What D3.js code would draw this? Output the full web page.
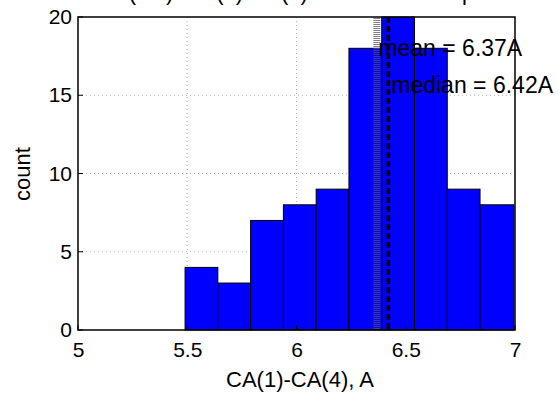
<!DOCTYPE html>
<html>
<head>
<meta charset="utf-8">
<script src="https://cdn.jsdelivr.net/npm/d3@7"></script>
<style>
  body { margin: 0; background: #fff; }
  svg text { font-family: Arial, "Liberation Sans", Helvetica, sans-serif; }
</style>
</head>
<body>
<svg id="chart" width="559" height="394"></svg>
<script>
// histogram data
var binEdges = [5.49, 5.64, 5.79, 5.94, 6.09, 6.24, 6.39, 6.54, 6.69, 6.84, 6.995];
var counts = [4, 3, 7, 8, 9, 18, 20, 18, 9, 8];
var xTicks = [5, 5.5, 6, 6.5, 7];
var yTicks = [0, 5, 10, 15, 20];
var meanVal = 6.37;
var medianVal = 6.42;
var titleText = "Dmax(i+3): CA(1)-CA(4) for all helix templates";

var margin = {left: 78, right: 44, top: 17, bottom: 64};
var W = 559, H = 394;

var svg = d3.select("#chart");

var x = d3.scaleLinear().domain([5, 7]).range([margin.left, W - margin.right]);
var y = d3.scaleLinear().domain([0, 20]).range([H - margin.bottom, margin.top]);

var bins = counts.map(function(c, i) { return {x0: binEdges[i], x1: binEdges[i + 1], n: c}; });

// title, mostly cut off by the top of the figure (as in the original)
svg.append("text")
  .attr("x", 296).attr("y", 0)
  .attr("text-anchor", "middle")
  .attr("font-size", 22)
  .text(titleText);

// grid
var grid = svg.append("g").attr("stroke", "#b0b0b0").attr("stroke-dasharray", "1,3").attr("stroke-width", 1);
xTicks.slice(1, -1).forEach(function(t) {
  grid.append("line").attr("x1", x(t)).attr("x2", x(t)).attr("y1", y(0)).attr("y2", y(20));
});
yTicks.slice(1, -1).forEach(function(t) {
  grid.append("line").attr("x1", x(5)).attr("x2", x(7)).attr("y1", y(t)).attr("y2", y(t));
});

// bars
svg.append("g").selectAll("rect")
  .data(bins)
  .join("rect")
  .attr("x", function(d) { return x(d.x0); })
  .attr("width", function(d) { return x(d.x1) - x(d.x0); })
  .attr("y", function(d) { return y(d.n); })
  .attr("height", function(d) { return y(0) - y(d.n); })
  .attr("fill", "#0000ff")
  .attr("stroke", "#000")
  .attr("stroke-width", 1);

// mean line - drawn as stack of short horizontal strokes
var defs = svg.append("defs");
var pat = defs.append("pattern")
  .attr("id", "hatch").attr("patternUnits", "userSpaceOnUse")
  .attr("width", 8).attr("height", 2);
pat.append("rect").attr("width", 8).attr("height", 1).attr("fill", "#555").attr("opacity", 0.75);
svg.append("rect")
  .attr("x", x(meanVal) - 4).attr("width", 7)
  .attr("y", y(20)).attr("height", y(0) - y(20))
  .attr("fill", "url(#hatch)");

// median line
svg.append("line")
  .attr("x1", x(medianVal)).attr("x2", x(medianVal))
  .attr("y1", y(20)).attr("y2", y(0))
  .attr("stroke", "#000").attr("stroke-width", 3.5)
  .attr("stroke-dasharray", "6,3");

// labels for mean / median
svg.append("text").attr("x", x(meanVal) + 1).attr("y", 56)
  .attr("font-size", 23).text("mean = " + meanVal.toFixed(2) + "A");
svg.append("text").attr("x", x(medianVal) + 3).attr("y", 93)
  .attr("font-size", 23).text("median = " + medianVal.toFixed(2) + "A");

// box
svg.append("rect")
  .attr("x", x(5)).attr("y", y(20))
  .attr("width", x(7) - x(5)).attr("height", y(0) - y(20))
  .attr("fill", "none").attr("stroke", "#000").attr("stroke-width", 1.5);

// axes
var xAxis = svg.append("g")
  .attr("transform", "translate(0," + y(0) + ")")
  .call(d3.axisBottom(x).tickValues(xTicks).tickSize(0).tickPadding(12).tickFormat(d3.format("")));
var yAxis = svg.append("g")
  .attr("transform", "translate(" + x(5) + ",0)")
  .call(d3.axisLeft(y).tickValues(yTicks).tickSize(0).tickPadding(6));
[xAxis, yAxis].forEach(function(a) {
  a.select(".domain").remove();
  a.selectAll("text").attr("font-size", 21).attr("fill", "#000")
    .attr("font-family", "Arial, 'Liberation Sans', sans-serif");
});
xAxis.selectAll("text").attr("dy", "0.71em");

// small inward ticks
yTicks.forEach(function(t) {
  svg.append("line").attr("x1", x(5)).attr("x2", x(5) + 5)
    .attr("y1", y(t)).attr("y2", y(t)).attr("stroke", "#000");
});
xTicks.forEach(function(t) {
  svg.append("line").attr("x1", x(t)).attr("x2", x(t))
    .attr("y1", y(0)).attr("y2", y(0) - 5).attr("stroke", "#000");
});

// axis titles
svg.append("text")
  .attr("x", 300).attr("y", 387)
  .attr("text-anchor", "middle").attr("font-size", 22)
  .text("CA(1)-CA(4), A");
svg.append("text")
  .attr("transform", "translate(30,174) rotate(-90)")
  .attr("text-anchor", "middle").attr("font-size", 22)
  .text("count");
</script>
</body>
</html>
